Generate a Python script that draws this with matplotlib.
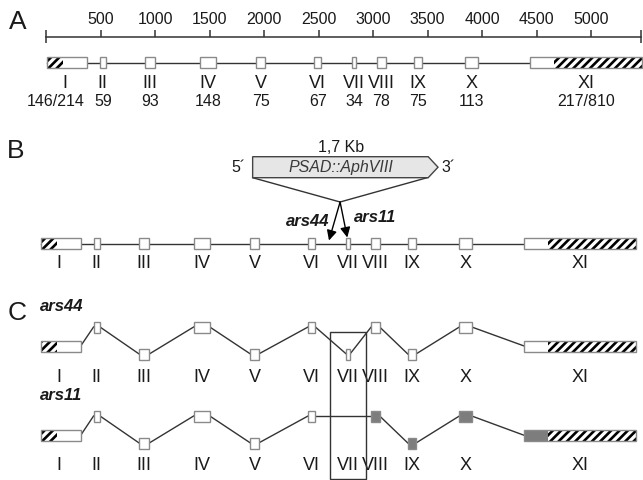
import matplotlib
matplotlib.use('Agg')
import matplotlib.pyplot as plt
from matplotlib.patches import Rectangle, Polygon

plt.rcParams['font.family'] = ['Liberation Sans', 'DejaVu Sans']
plt.rcParams['hatch.linewidth'] = 1.9

# ---------------- data ----------------
exon_names = ['I', 'II', 'III', 'IV', 'V', 'VI', 'VII', 'VIII', 'IX', 'X', 'XI']
exon_start = [13, 491, 909, 1409, 1930, 2458, 2809, 3037, 3373, 3846, 4440]   # bp
exon_cds = [214, 59, 93, 148, 75, 67, 34, 78, 75, 113, 217]                   # bp (coding)
utr5_len = 146      # hatched part of exon I
utr3_len = 810      # hatched part of exon XI
exon_labels = ['146/214', '59', '93', '148', '75', '67', '34', '78', '75', '113', '217/810']
scale_ticks = [500, 1000, 1500, 2000, 2500, 3000, 3500, 4000, 4500, 5000]
scale_end = 5455
insert_len = 1700   # 1,7 Kb PSAD::AphVIII cassette
insert_sites = {'ars44': 2650, 'ars11': 2818}
ars44_levels = [0, 1, -1, 1, -1, 1, -1, 1, -1, 1, 0]
ars11_levels = [0, 1, -1, 1, -1, 1, None, 1, -1, 1, 0]
ars11_altered = [False, False, False, False, False, False, False, True, True, True, True]

# ---------------- layout ----------------
W, H = 643, 480
XL, XR = -422, 5475
OFF = -55          # panels B and C drawn slightly shifted
EXH = 11
LINE_C = '#333333'
EDGE_C = '#8a8a8a'
TXT_C = '#1a1a1a'
GRAY = '#7d7d7d'
HATCH = '////'

fig = plt.figure(figsize=(W / 100, H / 100), dpi=100)
ax = fig.add_axes([0, 0, 1, 1])
ax.set_xlim(XL, XR)
ax.set_ylim(H, 0)
ax.axis('off')

def px2x(px):
    return XL + px * (XR - XL) / W

def exon_full_len(i):
    if i == 0:
        return utr5_len + exon_cds[0]
    if i == len(exon_names) - 1:
        return exon_cds[-1] + utr3_len
    return exon_cds[i]

def draw_exon(i, yc, off, fill='white'):
    x0 = exon_start[i] + off
    y0 = yc - EXH / 2
    n = len(exon_names)
    if i == 0:
        ax.add_patch(Rectangle((x0, y0), utr5_len, EXH, facecolor='white', edgecolor='black',
                               hatch=HATCH, lw=0, zorder=3))
        ax.add_patch(Rectangle((x0 + utr5_len, y0), exon_cds[0], EXH, facecolor=fill,
                               edgecolor='none', zorder=3))
    elif i == n - 1:
        ax.add_patch(Rectangle((x0, y0), exon_cds[-1], EXH, facecolor=fill,
                               edgecolor='none', zorder=3))
        ax.add_patch(Rectangle((x0 + exon_cds[-1], y0), utr3_len, EXH, facecolor='white',
                               edgecolor='black', hatch=HATCH, lw=0, zorder=3))
    else:
        ax.add_patch(Rectangle((x0, y0), exon_cds[i], EXH, facecolor=fill,
                               edgecolor='none', zorder=3))
    ax.add_patch(Rectangle((x0, y0), exon_full_len(i), EXH, facecolor='none',
                           edgecolor=EDGE_C, lw=1.0, zorder=4))

def center(i, off):
    return exon_start[i] + off + exon_full_len(i) / 2

def label_x(i, off):
    # the first exon's labels sit slightly left of its centre
    return center(i, off) - (20 if i == 0 else 0)

# ---------------- panel letters ----------------
for letter, px, py in [('A', 18, 22), ('B', 16, 151), ('C', 17, 313)]:
    ax.text(px2x(px), py, letter, fontsize=19, ha='center', va='center', color=TXT_C)

# ---------------- panel A ----------------
ya = 36.7
ax.plot([0, scale_end], [ya, ya], color=LINE_C, lw=1.1)
ax.vlines(scale_ticks, ya - 6.5, ya, color=LINE_C, lw=1.1)
ax.vlines([0, scale_end], ya - 6.5, ya + 6.5, color=LINE_C, lw=1.1)
for t in scale_ticks:
    ax.text(t, 20, str(t), fontsize=11.5, ha='center', va='center', color=TXT_C)

yg = 62.5
ax.plot([exon_start[0], exon_start[-1]], [yg, yg], color=LINE_C, lw=1.0, zorder=1)
for i, name in enumerate(exon_names):
    draw_exon(i, yg, 0)
    ax.text(label_x(i, 0), 83, name, fontsize=13, ha='center', va='center', color=TXT_C)
    nx = center(i, 0) - (100 if i == 0 else 0)
    ax.text(nx, 102, exon_labels[i], fontsize=11.5, ha='center', va='center', color=TXT_C)

# ---------------- panel B ----------------
yb = 243.5
ax.plot([exon_start[0] + OFF, exon_start[-1] + OFF], [yb, yb], color=LINE_C, lw=1.0, zorder=1)
for i, name in enumerate(exon_names):
    draw_exon(i, yb, OFF)
    ax.text(label_x(i, OFF), 264, name, fontsize=13, ha='center', va='center', color=TXT_C)

# insertion cassette
ins_left = 1950 + OFF
tip = 90
box_top, box_bot = 156.7, 177.7
box_mid = (box_top + box_bot) / 2
poly = Polygon([(ins_left, box_top), (ins_left + insert_len - tip, box_top),
                (ins_left + insert_len, box_mid), (ins_left + insert_len - tip, box_bot),
                (ins_left, box_bot)], closed=True, facecolor='#e6e6e6',
               edgecolor='#444444', lw=1.0, zorder=3)
ax.add_patch(poly)
ax.text(ins_left + insert_len / 2 - 40, box_mid + 0.5, 'PSAD::AphVIII', fontsize=11.5,
        style='italic', ha='center', va='center', color='#3a3a3a', zorder=4)
ax.text(ins_left + insert_len / 2 - 40, 148, '1,7 Kb', fontsize=11.5, ha='center',
        va='center', color=TXT_C)
ax.text(ins_left - 70, 168, '5\u00b4', fontsize=11.5, ha='right', va='center', color=TXT_C)
ax.text(ins_left + insert_len + 30, 168, '3\u00b4', fontsize=11.5, ha='left', va='center',
        color=TXT_C)

apex_x = 2752 + OFF
apex_y = 202
ax.plot([ins_left, apex_x, ins_left + insert_len - tip - 10],
        [box_bot, apex_y, box_bot], color=LINE_C, lw=1.0, zorder=2)
ax.annotate('', xy=(insert_sites['ars44'] + OFF, 240.5), xytext=(apex_x, apex_y),
            arrowprops=dict(arrowstyle='-|>', color='black', lw=1.0, mutation_scale=15,
                            shrinkA=0, shrinkB=0), zorder=5)
ax.annotate('', xy=(insert_sites['ars11'] + OFF, 237.5), xytext=(apex_x, apex_y),
            arrowprops=dict(arrowstyle='-|>', color='black', lw=1.0, mutation_scale=15,
                            shrinkA=0, shrinkB=0), zorder=5)
ax.text(px2x(329), 221.5, 'ars44', fontsize=12, fontweight='bold', style='italic',
        ha='right', va='center', color=TXT_C)
ax.text(px2x(354), 217.5, 'ars11', fontsize=12, fontweight='bold', style='italic',
        ha='left', va='center', color=TXT_C)

# ---------------- panel C ----------------
def draw_spliced(levels, ymid, yup, ydown, ylab, altered=None):
    ymap = {0: ymid, 1: yup, -1: ydown}
    kept = [i for i, lv in enumerate(levels) if lv is not None]
    for a, b in zip(kept[:-1], kept[1:]):
        x1 = exon_start[a] + OFF + exon_full_len(a)
        x2 = exon_start[b] + OFF
        ax.plot([x1, x2], [ymap[levels[a]], ymap[levels[b]]], color=LINE_C, lw=1.0, zorder=2)
    for i in kept:
        fill = GRAY if (altered is not None and altered[i]) else 'white'
        draw_exon(i, ymap[levels[i]], OFF, fill=fill)
    for i, name in enumerate(exon_names):
        ax.text(label_x(i, OFF), ylab, name, fontsize=13, ha='center', va='center', color=TXT_C)

draw_spliced(ars44_levels, 346, 327, 354, 377)
draw_spliced(ars11_levels, 435.3, 416, 443, 465.5, altered=ars11_altered)

ax.text(px2x(40), 306.5, 'ars44', fontsize=12, fontweight='bold', style='italic',
        ha='left', va='center', color=TXT_C)
ax.text(px2x(40), 395, 'ars11', fontsize=12, fontweight='bold', style='italic',
        ha='left', va='center', color=TXT_C)

vii = exon_names.index('VII')
vc = center(vii, OFF)
ax.add_patch(Rectangle((vc - 165, 331.7), 330, 147.5, facecolor='none',
                       edgecolor=LINE_C, lw=1.0, zorder=5))

fig.savefig('out.png', dpi=100)
